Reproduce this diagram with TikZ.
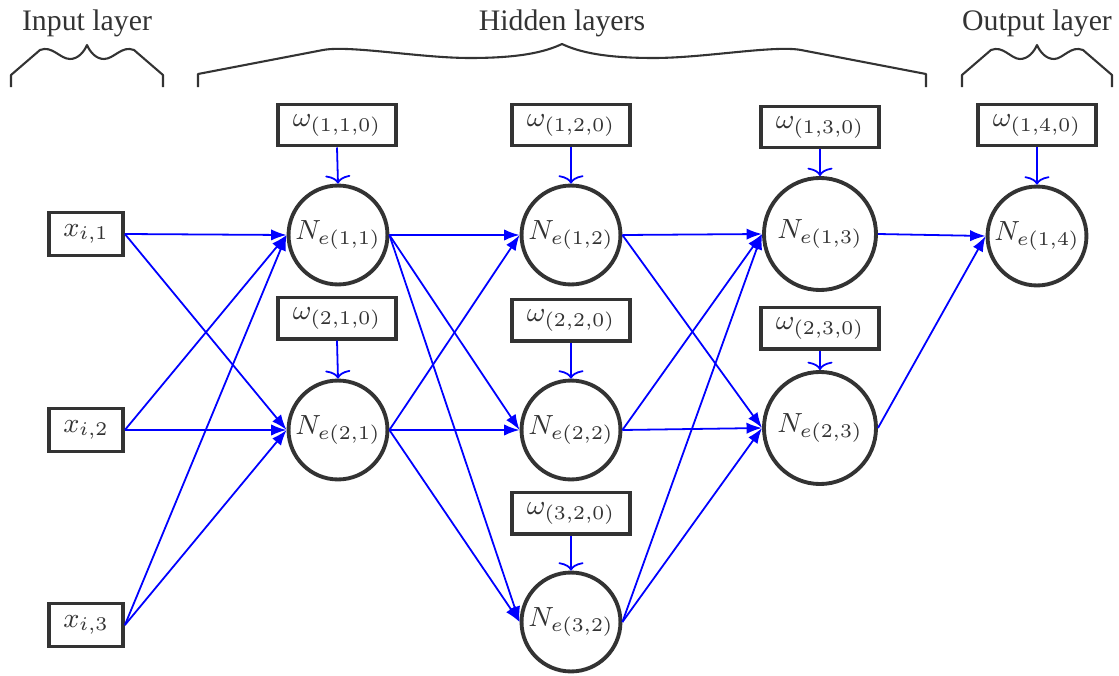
\documentclass[tikz,border=0pt]{standalone}
\usepackage{fix-cm}
\usepackage{fontspec}
\setmainfont{Liberation Serif}
\usetikzlibrary{arrows.meta}

\begin{document}
\begin{tikzpicture}[x=0.3356pt,y=-0.3356pt,
  font=\fontsize{9.3}{11}\selectfont, text=black!80,
  neuron/.style={circle,draw=black!80,line width=1.3pt,minimum size=33.2pt,inner sep=0pt},
  bigneuron/.style={neuron,minimum size=37.6pt},
  inbox/.style={rectangle,draw=black!80,line width=1.3pt,minimum width=24.8pt,minimum height=14.4pt,inner sep=0pt},
  wbox/.style={inbox,minimum width=39.6pt,minimum height=13.8pt},
  link/.style={blue,line width=0.6pt,-{Latex[length=5.2pt,width=3.8pt]}},
  bias/.style={blue,line width=0.6pt,-{To[length=2.8pt,width=8.4pt]}},
  brace/.style={draw=black!80,line width=0.7pt,line join=round},
  title/.style={font=\fontsize{10}{12}\selectfont,anchor=base}]

\useasboundingbox (0,0) rectangle (1119,676);

% layer titles
\node[title] (tin)  at (87,30)   {Input layer};
\node[title] (thid) at (562,30)  {Hidden layers};
\node[title] (tout) at (1037,30) {Output layer};

% braces
\draw[brace] (11,87) -- (11,75) -- (40,50)
  .. controls (52,45) and (60,59) .. (70,59)
  .. controls (78,59) and (84,52) .. (87,45)
  .. controls (90,52) and (96,59) .. (104,59)
  .. controls (114,59) and (122,45) .. (134,50)
  -- (163,75) -- (163,87);
\draw[brace] (198,87) -- (198,74) -- (323,50)
  .. controls (350,45) and (420,58) .. (470,58)
  .. controls (520,58) and (545,52) .. (562,44)
  .. controls (579,52) and (604,58) .. (654,58)
  .. controls (704,58) and (774,45) .. (801,50)
  -- (926,74) -- (926,87);
\draw[brace] (962,87) -- (962,75) -- (991,50)
  .. controls (1003,45) and (1011,59) .. (1020,59)
  .. controls (1028,59) and (1034,52) .. (1037,45)
  .. controls (1040,52) and (1046,59) .. (1054,59)
  .. controls (1063,59) and (1071,45) .. (1083,50)
  -- (1112,75) -- (1112,87);

% inputs
\node[inbox] (x1) at (86,234) {$x_{i,1}$};
\node[inbox] (x2) at (86,430) {$x_{i,2}$};
\node[inbox] (x3) at (86,625) {$x_{i,3}$};

% neurons
\node[neuron] (n11) at (338,235) {$N_{e(1,1)}$};
\node[neuron] (n21) at (338,430) {$N_{e(2,1)}$};
\node[neuron] (n12) at (571,235) {$N_{e(1,2)}$};
\node[neuron] (n22) at (571,430) {$N_{e(2,2)}$};
\node[neuron] (n32) at (571,622) {$N_{e(3,2)}$};
\node[bigneuron] (n13) at (820,234) {$N_{e(1,3)}$};
\node[bigneuron] (n23) at (820,428) {$N_{e(2,3)}$};
\node[neuron] (n14) at (1037,236) {$N_{e(1,4)}$};

% bias weights
\node[wbox] (w11) at (337,125) {$\omega_{(1,1,0)}$};
\node[wbox] (w21) at (337,318) {$\omega_{(2,1,0)}$};
\node[wbox] (w12) at (571,125) {$\omega_{(1,2,0)}$};
\node[wbox] (w22) at (571,320) {$\omega_{(2,2,0)}$};
\node[wbox] (w32) at (571,513) {$\omega_{(3,2,0)}$};
\node[wbox] (w13) at (820,127) {$\omega_{(1,3,0)}$};
\node[wbox] (w23) at (820,328) {$\omega_{(2,3,0)}$};
\node[wbox] (w14) at (1037,125) {$\omega_{(1,4,0)}$};

\foreach \w/\n in {w11/n11,w21/n21,w12/n12,w22/n22,w32/n32,w13/n13,w23/n23,w14/n14}
  \draw[bias] (\w.south) -- (\n.north);

% input -> first hidden layer
\foreach \a in {x1,x2,x3}
  \foreach \b in {n11,n21}
    \draw[link] (\a.east) -- (\b.west);

% first -> second hidden layer
\foreach \a in {n11,n21}
  \foreach \b in {n12,n22,n32}
    \draw[link] (\a.east) -- (\b.west);

% second -> third hidden layer
\foreach \a in {n12,n22,n32}
  \foreach \b in {n13,n23}
    \draw[link] (\a.east) -- (\b.west);

% third hidden layer -> output
\foreach \a in {n13,n23}
  \draw[link] (\a.east) -- (n14.west);

\end{tikzpicture}
\end{document}
